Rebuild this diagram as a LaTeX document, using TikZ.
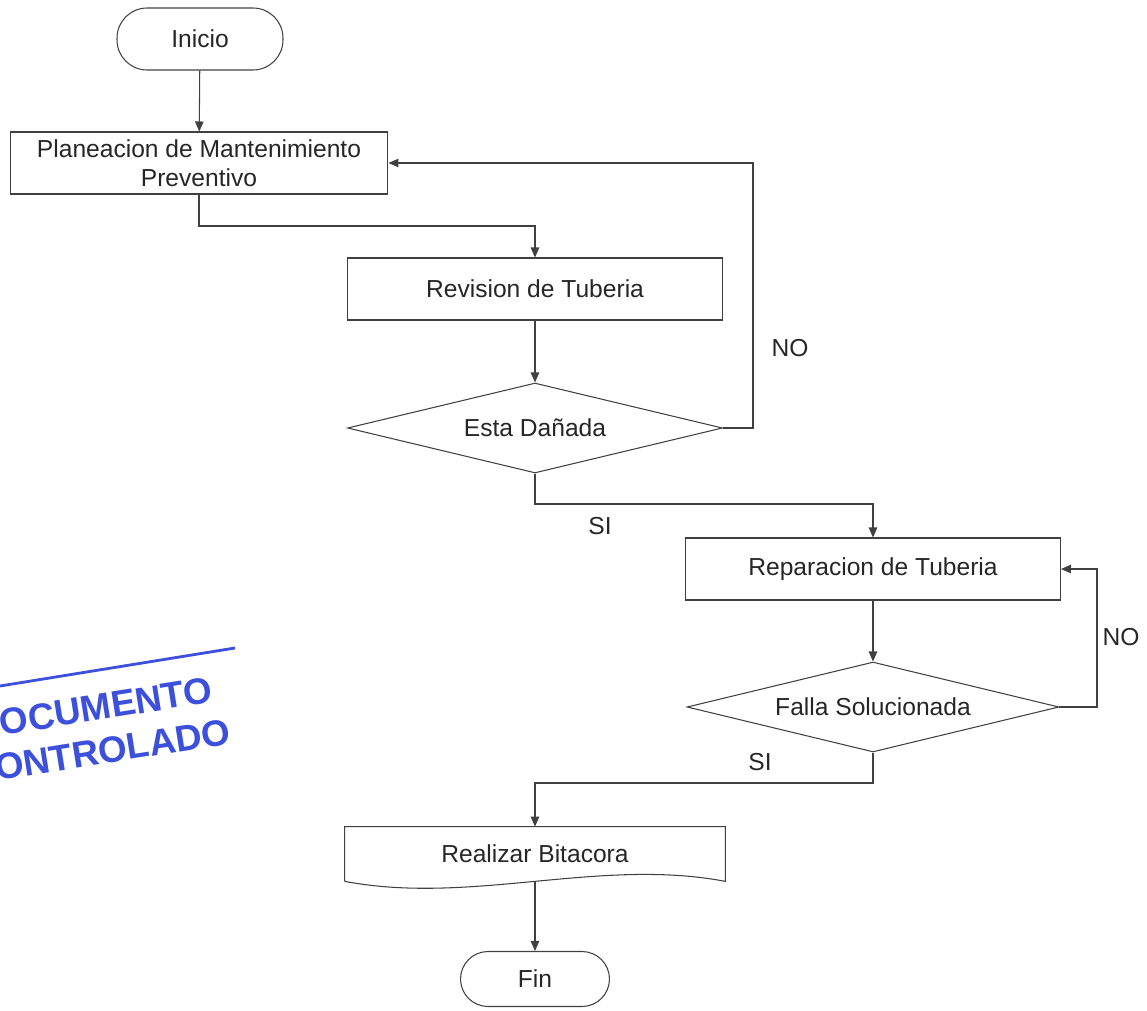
\documentclass[tikz,border=0pt]{standalone}
\usepackage{fontspec}
\setmainfont{Liberation Sans}
\usetikzlibrary{shapes.geometric}
\usetikzlibrary{arrows.meta}
\definecolor{stampblue}{RGB}{60,80,220}

\begin{document}
\begin{tikzpicture}[x=0.02cm, y=-0.02cm,
    font=\fontsize{14}{16.5}\selectfont,
    box/.style={draw, black!75, text=black!85, line width=0.6pt, minimum width=7.5cm, minimum height=1.24cm, align=center, inner sep=2pt},
    terminal/.style={box, rounded corners=0.6cm},
    decision/.style={draw, diamond, aspect=4.2, black!75, text=black!85, line width=0.6pt, minimum width=7.5cm, minimum height=1.8cm, inner sep=0pt},
    flow/.style={black!75, line width=0.6pt, -{Triangle[length=2mm, width=1.7mm]}}]
    \useasboundingbox (0,0) rectangle (1147,1011);
    \clip (0,0) rectangle (1147,1011);
    % Stamp
    \draw[stampblue, line width=1.6pt] (0,686) -- (235,648);
    \node[stampblue, font=\bfseries\fontsize{21}{25}\selectfont, rotate=9, align=center] (stamp) at (96,730) {DOCUMENTO\\CONTROLADO};
    % Steps
    \node[terminal, minimum width=3.32cm] (ini) at (200,39) {Inicio};
    \node[box, minimum width=7.56cm] (plan) at (199,163) {Planeacion de Mantenimiento\\Preventivo};
    \node[box] (rev) at (535,289) {Revision de Tuberia};
    \node[decision] (dan) at (535,428) {Esta Dañada};
    \node[box] (rep) at (873,569) {Reparacion de Tuberia};
    \node[decision, minimum width=7.44cm] (fal) at (873,707) {Falla Solucionada};
    \node[text=black!85, minimum width=7.6cm, minimum height=1.08cm] (doc) at (535,854) {Realizar Bitacora};
    \draw[black!75, line width=0.6pt] (doc.south west) -- (doc.north west) -- (doc.north east) -- (doc.south east)
        .. controls +(-2.53cm,0.48cm) and +(2.53cm,-0.48cm) .. (doc.south west);
    \node[terminal, minimum width=2.98cm, minimum height=1.1cm, rounded corners=0.55cm] (fin) at (535,979) {Fin};
    % Bends
    \coordinate (j1) at (535,226);
    \coordinate (j2) at (753,428);
    \coordinate (j3) at (873,504);
    \coordinate (j4) at (1097,707);
    \coordinate (j5) at (535,783);
    % Arrows
    \draw[flow] (ini) -- (plan);
    \draw[flow] (plan.south) |- (j1) -- (rev.north);
    \draw[flow] (rev) -- (dan);
    \draw[flow] (dan.east) -- (j2) |- (plan.east);
    \draw[flow] (dan.south) |- (j3) -- (rep.north);
    \draw[flow] (rep) -- (fal);
    \draw[flow] (fal.east) -- (j4) |- (rep.east);
    \draw[flow] (fal.south) |- (j5) -- (doc.north);
    \draw[flow] (doc.south) -- (fin.north);
    % Labels
    \node[text=black!85] (no1) at (790,348) {NO};
    \node[text=black!85] (si1) at (600,526) {SI};
    \node[text=black!85] (no2) at (1121,637) {NO};
    \node[text=black!85] (si2) at (760,762) {SI};
\end{tikzpicture}
\end{document}
